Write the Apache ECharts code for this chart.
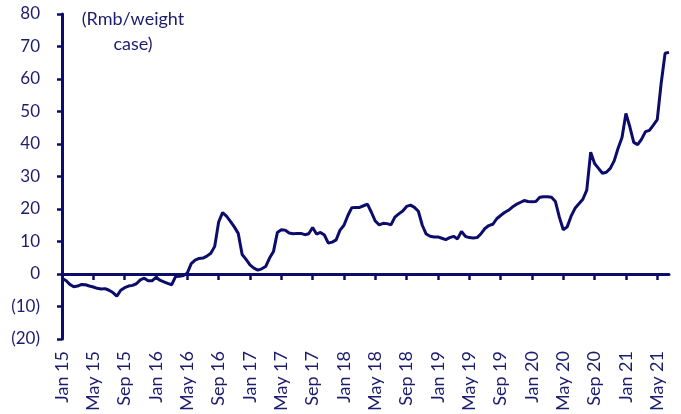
<!DOCTYPE html>
<html>
<head>
<meta charset="utf-8">
<script src="https://cdn.jsdelivr.net/npm/echarts@6/dist/echarts.min.js"></script>
<style>
  html, body { margin: 0; padding: 0; background: #fff; }
  #grafica { width: 681px; height: 414px; }
</style>
</head>
<body>
<div id="grafica"></div>
<script>
// etiquetas del eje x (una cada 4 meses)
var tickLabels = ['Jan 15', 'May 15', 'Sep 15', 'Jan 16', 'May 16', 'Sep 16', 'Jan 17', 'May 17',
    'Sep 17', 'Jan 18', 'May 18', 'Sep 18', 'Jan 19', 'May 19', 'Sep 19', 'Jan 20', 'May 20',
    'Sep 20', 'Jan 21', 'May 21'];

// meses para armar las categorias quincenales
var monthNames = ['Jan', 'Feb', 'Mar', 'Apr', 'May', 'Jun', 'Jul', 'Aug', 'Sep', 'Oct', 'Nov', 'Dec'];

// valores (Rmb/weight case), un punto cada medio mes desde Jan 15
var values = [
    -1.3, -2.0, -3.2, -3.9, -3.7, -3.2, -3.3, -3.7, -4.0, -4.4,
    -4.6, -4.5, -5.0, -5.7, -6.8, -5.0, -4.2, -3.7, -3.5, -3.0,
    -1.8, -1.3, -2.1, -2.1, -1.0, -1.9, -2.4, -2.9, -3.3, -0.8,
    -0.7, -0.5, 0.3, 3.2, 4.3, 4.8, 4.9, 5.5, 6.4, 8.5,
    16.0, 18.9, 17.8, 16.2, 14.5, 12.5, 6.0, 4.5, 2.8, 1.8,
    1.2, 1.6, 2.3, 4.9, 6.9, 12.8, 13.6, 13.5, 12.6, 12.4,
    12.5, 12.5, 12.1, 12.4, 14.3, 12.3, 12.8, 12.0, 9.5, 9.8,
    10.5, 13.5, 15.0, 18.0, 20.4, 20.5, 20.5, 21.0, 21.5, 19.0,
    16.3, 15.1, 15.6, 15.5, 15.1, 17.5, 18.5, 19.4, 20.8, 21.2,
    20.5, 19.3, 15.0, 12.3, 11.6, 11.4, 11.4, 11.0, 10.6, 11.2,
    11.6, 10.8, 13.1, 11.6, 11.2, 11.1, 11.2, 12.4, 14.0, 14.9,
    15.3, 17.0, 18.0, 18.9, 19.6, 20.6, 21.4, 22.0, 22.6, 22.3,
    22.2, 22.3, 23.6, 23.8, 23.8, 23.6, 22.3, 17.5, 13.6, 14.5,
    17.8, 20.2, 21.6, 23.0, 25.8, 37.5, 34.0, 32.5, 31.0, 31.3,
    32.5, 34.8, 38.7, 42.0, 49.4, 45.3, 40.5, 39.8, 41.5, 43.8,
    44.2, 45.8, 47.5, 58.7, 67.9, 68.2
];

var categories = [];
for (var i = 0; i < values.length; i++) {
    var m = Math.floor(i / 2);
    categories.push(monthNames[m % 12] + ' ' + (15 + Math.floor(m / 12)) + (i % 2 ? ' b' : ''));
}

var azul = '#0c0c6b';
var textoAzul = '#1c1c6e';
var fuente = 'Lato';

var grafico = echarts.init(document.getElementById('grafica'));

var option = {
    animation: false,
    grid: {
        left: 62,
        right: 12,
        top: 14,
        bottom: 75,
        containLabel: false,
        outerBoundsMode: 'none'
    },
    graphic: [
        {
            type: 'text',
            x: 133,
            y: 7,
            style: {
                text: '(Rmb/weight\ncase)',
                align: 'center',
                textAlign: 'center',
                fontFamily: fuente,
                fontSize: 18,
                lineHeight: 25,
                fill: textoAzul
            }
        }
    ],
    xAxis: {
        type: 'category',
        data: categories,
        boundaryGap: false,
        axisLine: {
            onZero: true,
            lineStyle: { color: azul, width: 3 }
        },
        axisTick: {
            interval: 7,
            length: 6,
            lineStyle: { color: azul, width: 2.5 }
        },
        axisLabel: {
            interval: 7,
            rotate: 90,
            margin: 12,
            fontFamily: fuente,
            fontSize: 18,
            color: textoAzul,
            hideOverlap: false,
            formatter: function (v, idx) {
                return tickLabels[idx / 8];
            }
        },
        splitLine: { show: false }
    },
    yAxis: {
        type: 'value',
        min: -20,
        max: 80,
        interval: 10,
        axisLine: {
            show: true,
            lineStyle: { color: azul, width: 3 }
        },
        axisTick: {
            show: true,
            length: 5,
            lineStyle: { color: azul, width: 2.5 }
        },
        axisLabel: {
            margin: 22,
            fontFamily: fuente,
            fontSize: 17,
            color: textoAzul,
            formatter: function (v) {
                return v < 0 ? '(' + Math.abs(v) + ')' : String(v);
            }
        },
        splitLine: { show: false }
    },
    series: [
        {
            type: 'line',
            data: values,
            showSymbol: false,
            smooth: false,
            lineStyle: { color: azul, width: 3 }
        }
    ]
};

grafico.setOption(option);
</script>
</body>
</html>
